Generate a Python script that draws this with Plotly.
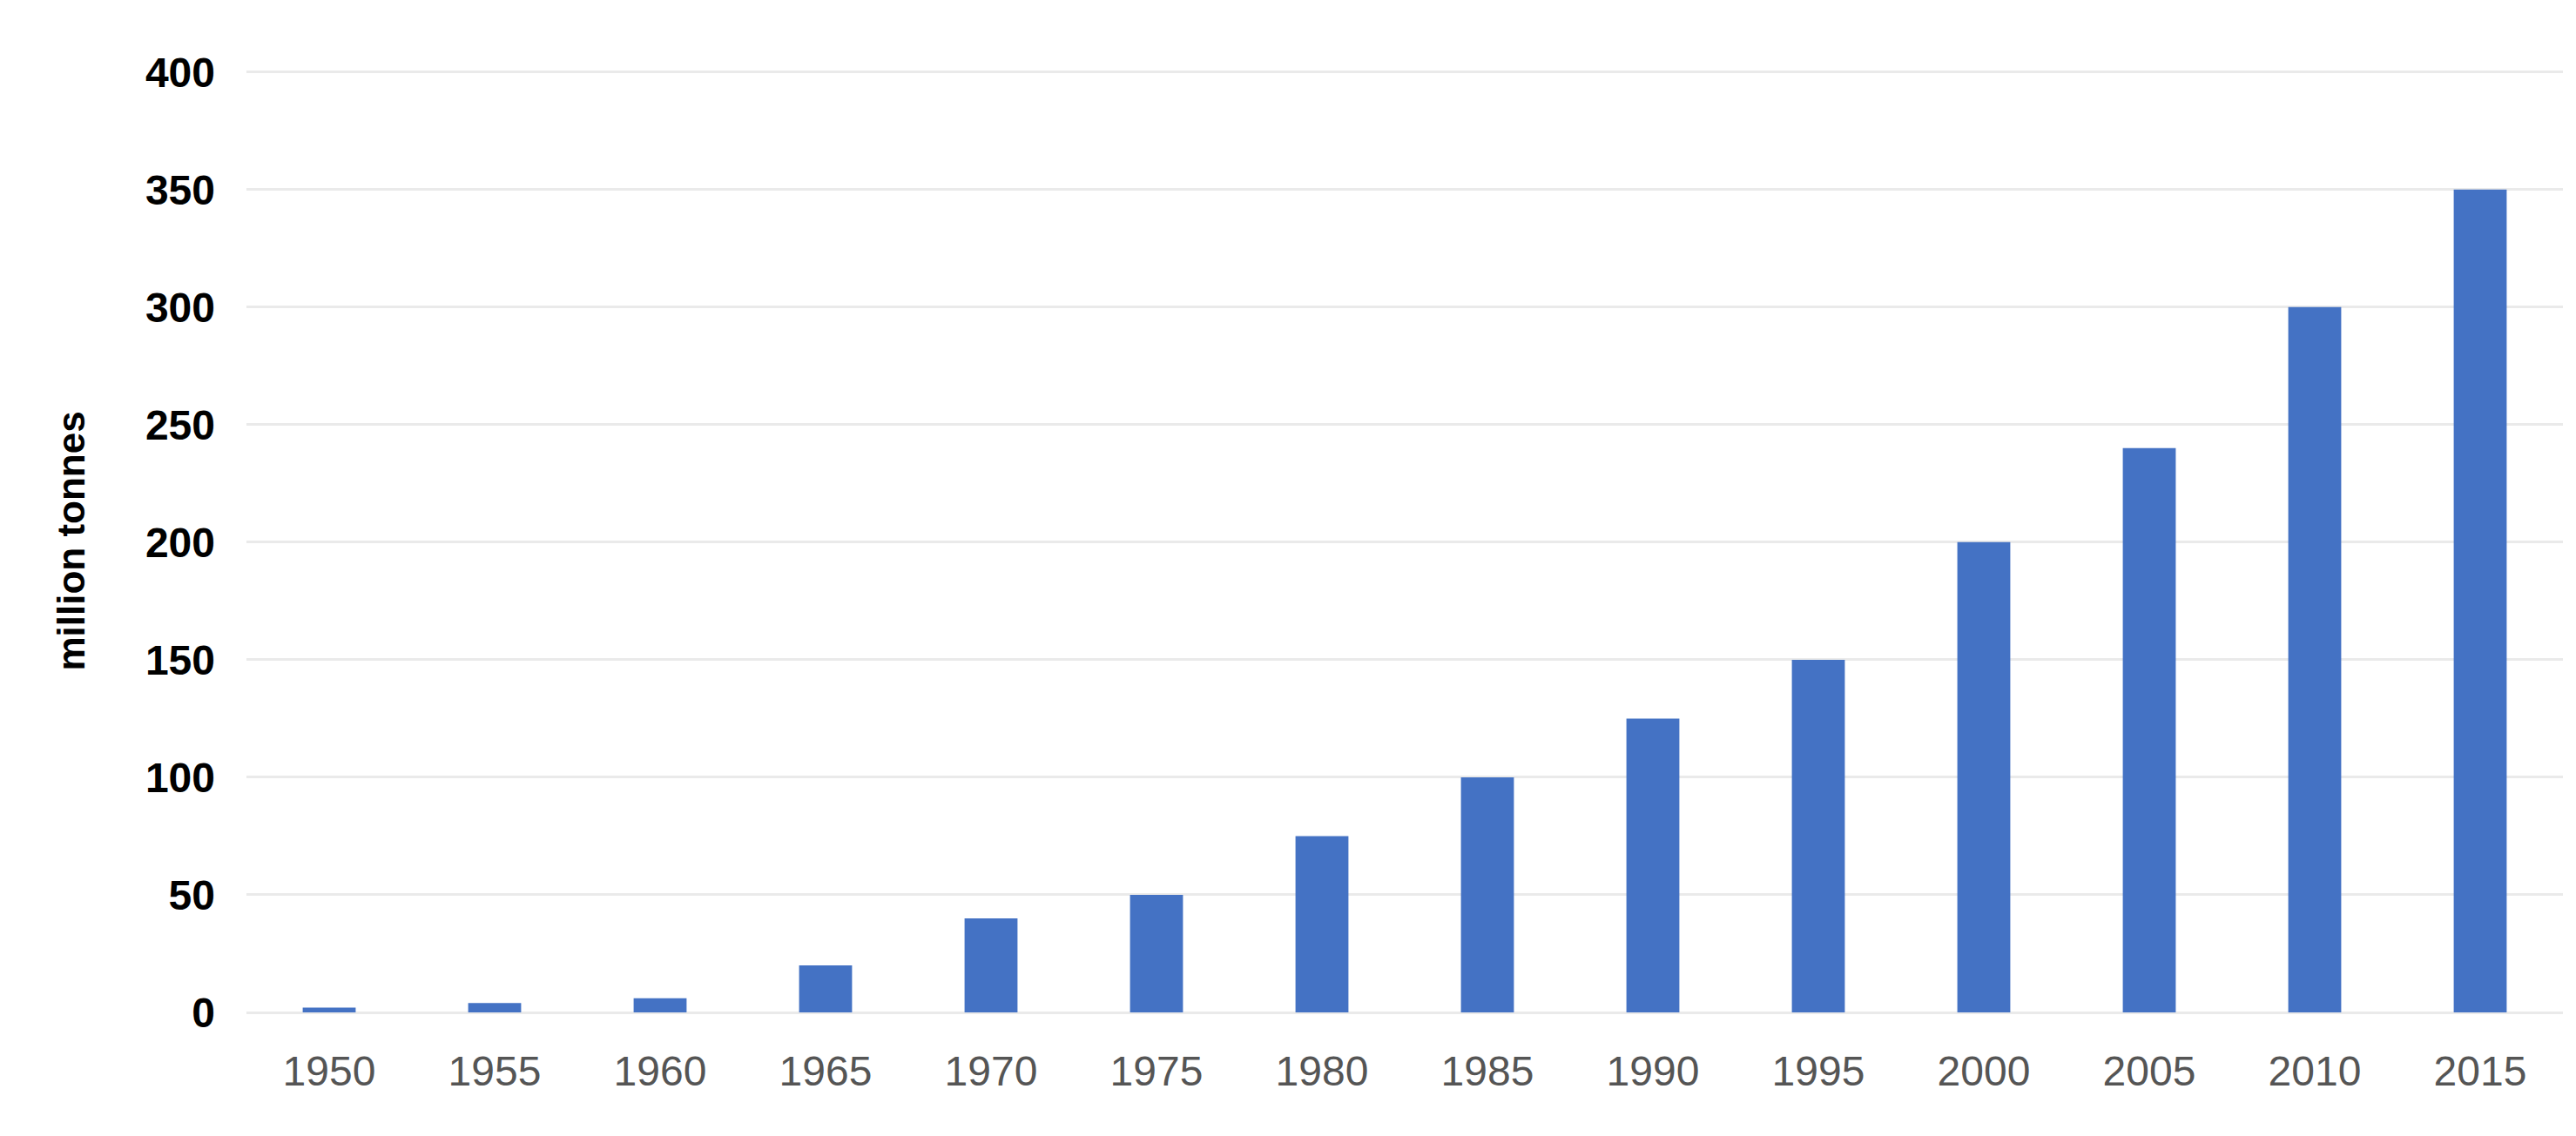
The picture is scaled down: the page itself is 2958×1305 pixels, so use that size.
import plotly.graph_objects as go

years = ["1950","1955","1960","1965","1970","1975","1980","1985","1990","1995","2000","2005","2010","2015"]
values = [2, 4, 6, 20, 40, 50, 75, 100, 125, 150, 200, 240, 300, 350]
y_ticks = [0, 50, 100, 150, 200, 250, 300, 350, 400]

fig = go.Figure(go.Bar(x=years, y=values, marker=dict(color="#4472C4", line=dict(width=0))))
fig.update_layout(
    width=2958, height=1305,
    margin=dict(l=275, r=23, t=72, b=150),
    paper_bgcolor="white", plot_bgcolor="white",
    bargap=0.68, showlegend=False,
    font=dict(family="Liberation Sans, Arial, sans-serif"),
)
fig.update_xaxes(type="category", showgrid=False, showline=False, ticks="",
                 tickfont=dict(size=48, color="#555555"), ticklabelstandoff=35)
fig.update_yaxes(range=[0, 401], tickvals=y_ticks, showgrid=True, gridcolor="#EAEAEA", gridwidth=3,
                 zeroline=True, zerolinecolor="#EAEAEA", zerolinewidth=3, showline=False,
                 tickfont=dict(size=48, color="black", family="Liberation Sans, Arial, sans-serif", weight="bold"),
                 ticklabelstandoff=35,
                 title=dict(text="<b>million tonnes</b>", font=dict(size=44, color="black"), standoff=55))
fig.write_html("out.html")
